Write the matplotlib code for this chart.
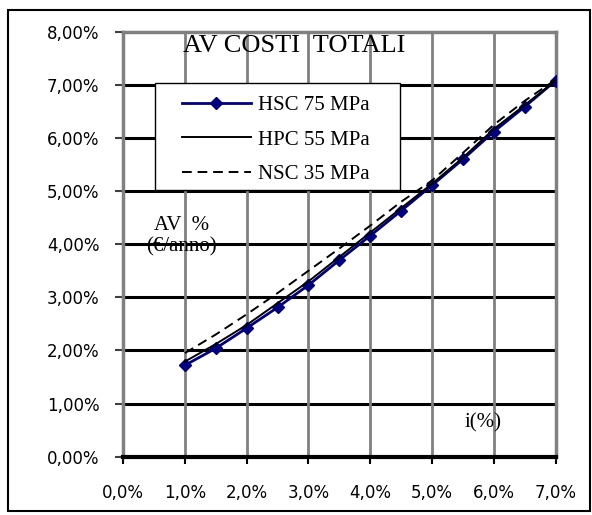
import matplotlib.pyplot as plt
from matplotlib.patches import Rectangle
from matplotlib.ticker import FuncFormatter

# tasso di interesse i (%)
tassi = [1.0, 1.5, 2.0, 2.5, 3.0, 3.5, 4.0, 4.5, 5.0, 5.5, 6.0, 6.5, 7.0]

# AV % dei costi totali per classe di calcestruzzo
av_hsc = [1.72, 2.04, 2.42, 2.81, 3.23, 3.70, 4.16, 4.63, 5.11, 5.60, 6.12, 6.59, 7.08]
av_hpc = [1.79, 2.12, 2.48, 2.89, 3.30, 3.76, 4.22, 4.68, 5.14, 5.63, 6.17, 6.62, 7.08]
av_nsc = [1.95, 2.30, 2.68, 3.08, 3.50, 3.92, 4.35, 4.80, 5.20, 5.72, 6.25, 6.70, 7.10]

etichette = ["HSC 75 MPa", "HPC 55 MPa", "NSC 35 MPa"]

x_ticks = [0, 1, 2, 3, 4, 5, 6, 7]
y_ticks = [0, 1, 2, 3, 4, 5, 6, 7, 8]

SERIF = "Liberation Serif"

fig = plt.figure(figsize=(5.92, 5.15), dpi=100)
# cornice esterna del grafico
fig.patches.append(Rectangle((8 / 592, 4 / 515), 582 / 592, 501 / 515,
                             transform=fig.transFigure, fill=False,
                             edgecolor="black", linewidth=1.5))

ax = fig.add_axes([0.2078, 0.1132, 0.7309, 0.8252])
ax.set_xlim(0, 7)
ax.set_ylim(0, 8)

# griglia: orizzontali nere, verticali grigie
for y in y_ticks[1:-1]:
    ax.axhline(y, color="black", linewidth=2.2, zorder=1)
for x in x_ticks[1:-1]:
    ax.axvline(x, color="#808080", linewidth=2.0, zorder=1)

for side in ["left", "top", "right"]:
    ax.spines[side].set_color("#808080")
    ax.spines[side].set_linewidth(2.5)
ax.spines["bottom"].set_color("black")
ax.spines["bottom"].set_linewidth(3)

ax.plot(tassi, av_hsc, color="#000080", linewidth=2, marker="D",
        markersize=6.5, markerfacecolor="#000080", markeredgecolor="#000080",
        label=etichette[0], zorder=3)
ax.plot(tassi, av_hpc, color="black", linewidth=1.4, label=etichette[1], zorder=4)
ax.plot(tassi, av_nsc, color="black", linewidth=1.4, linestyle=(0, (5, 3)),
        label=etichette[2], zorder=4)

ax.set_xticks(x_ticks)
ax.set_yticks(y_ticks)
ax.xaxis.set_major_formatter(FuncFormatter(lambda v, p: f"{v:.1f}%".replace(".", ",")))
ax.yaxis.set_major_formatter(FuncFormatter(lambda v, p: f"{v:.2f}%".replace(".", ",")))
ax.tick_params(axis="x", direction="out", length=5, width=1.5, color="black",
               labelsize=12, pad=15)
ax.tick_params(axis="y", direction="out", length=6, width=1.5, color="#404040",
               labelsize=12, pad=11)

ax.text(2.77, 7.73, "AV COSTI  TOTALI", fontfamily=SERIF, fontsize=19,
        ha="center", va="center")
ax.text(0.94, 4.36, "AV  %", fontfamily=SERIF, fontsize=15,
        ha="center", va="center")
ax.text(0.95, 3.95, "(€/anno)", fontfamily=SERIF, fontsize=15,
        ha="center", va="center")
ax.text(5.82, 0.64, "i(%)", fontfamily=SERIF, fontsize=15,
        ha="center", va="center")

# riquadro della legenda, disegnato a parte per avere il margine sinistro largo
ax.add_patch(Rectangle((0.074, 0.627), 0.566, 0.252, transform=ax.transAxes,
                       facecolor="white", edgecolor="black", linewidth=1.0,
                       zorder=5))
leg = ax.legend(loc="upper left", bbox_to_anchor=(0.136, 0.850),
                borderaxespad=0, frameon=False,
                prop={"family": SERIF, "size": 15},
                handlelength=3.3, labelspacing=0.72, borderpad=0,
                handletextpad=0.35)
leg.set_zorder(6)

fig.savefig("out.png", dpi=100)
